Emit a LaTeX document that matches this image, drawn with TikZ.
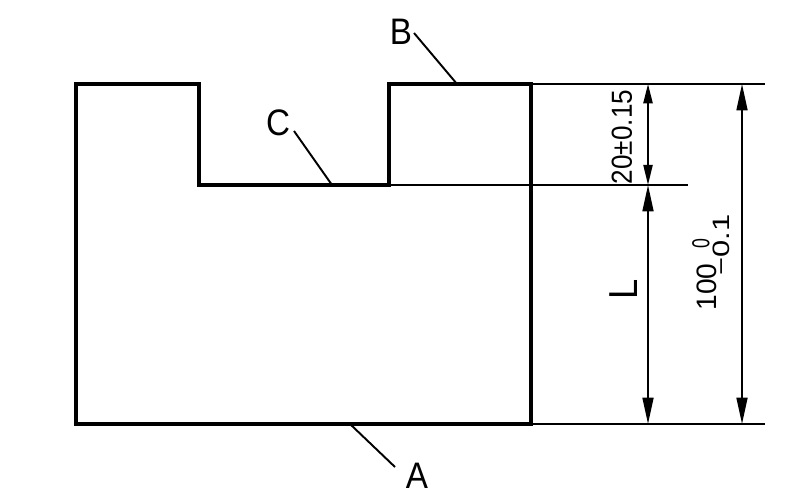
\documentclass[tikz,border=0pt]{standalone}
\usepackage{fontspec}
\setmainfont[FakeStretch=0.9]{Liberation Sans}
\newfontfamily\narrowfont[FakeStretch=0.72]{Liberation Sans}
\newfontfamily\plainfont{Liberation Sans}
\newfontfamily\widefont[FakeStretch=1.3]{Liberation Sans}
\usetikzlibrary{arrows.meta}
\tikzset{
	outline/.style={draw, line width=2.3pt, line join=miter},
	thinline/.style={draw, line width=1.1pt},
	leader/.style={draw, line width=1.1pt},
	bigtip/.style={{Triangle[length=15pt, width=6.2pt]}-{Triangle[length=15pt, width=6.2pt]}},
	surfmark/.style={inner sep=0pt, font=\fontsize{21}{21}\selectfont},
	dimtext/.style={inner sep=0pt, rotate=90, font=\fontsize{#1}{#1}\selectfont}
}

\begin{document}
\begin{tikzpicture}[x=0.02cm, y=-0.02cm]
\useasboundingbox (0,0) rectangle (803,496);

% part outline
\draw [outline] (76,84) -- (199,84) -- (199,185) -- (389,185) -- (389,84)
	-- (531,84) -- (531,424) -- (76,424) -- cycle;

% extension lines
\coordinate (topleft) at (531,84);
\coordinate (topright) at (765,84);
\coordinate (slotleft) at (389,185);
\coordinate (slotright) at (688,185);
\coordinate (botleft) at (531,424);
\coordinate (botright) at (765,424);
\draw [thinline] (topleft) -- (topright);
\draw [thinline] (slotleft) -- (slotright);
\draw [thinline] (botleft) -- (botright);

% dimension lines
\coordinate (depthtop) at (648,84);
\coordinate (depthbot) at (648,185);
\coordinate (lengthbot) at (648,424);
\coordinate (totaltop) at (742,84);
\coordinate (totalbot) at (742,424);
\draw [thinline, {Triangle[length=11pt, width=5.2pt]}-{Triangle[length=11.5pt, width=5.2pt]}] (depthtop) -- (depthbot);
\draw [thinline, bigtip] (depthbot) -- (lengthbot);
\draw [thinline, bigtip] (totaltop) -- (totalbot);

% dimension texts
\node[dimtext=16.5] (depth) at (622,137) {20±0.15};
\node[dimtext=23] (length) at (624,289) {L};
\node[dimtext=16] (total) at (707,287) {\plainfont 100};
\node[dimtext=14] (upper) at (701,244) {\narrowfont 0};
\node[dimtext=13.5] (lower) at (721,245) {\widefont −0.1};

% surface marks
\node[surfmark] (markb) at (401,32) {B};
\node[surfmark] (markc) at (278,123) {C};
\node[surfmark] (marka) at (417,476) {A};
\coordinate (bstart) at (414,33);
\coordinate (bend) at (457,84);
\coordinate (cstart) at (294,131);
\coordinate (cend) at (332,185);
\coordinate (astart) at (395,467);
\coordinate (aend) at (350,424);
\draw [leader] (bstart) -- (bend);
\draw [leader] (cstart) -- (cend);
\draw [leader] (astart) -- (aend);

\end{tikzpicture}
\end{document}
